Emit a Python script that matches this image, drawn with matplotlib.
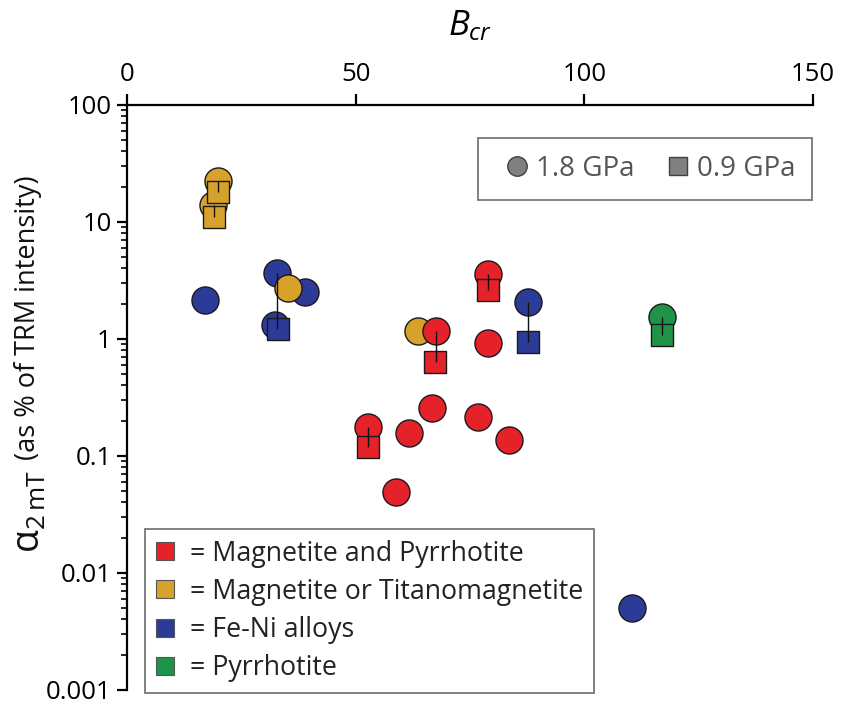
import matplotlib
matplotlib.use('Agg')
import matplotlib.pyplot as plt
from matplotlib.lines import Line2D

plt.rcParams['font.family'] = ['Open Sans', 'DejaVu Sans']
plt.rcParams['mathtext.fontset'] = 'custom'
plt.rcParams['mathtext.rm'] = 'Open Sans'
plt.rcParams['mathtext.it'] = 'Open Sans:italic'

# colours per mineral group
c_red = '#e52129'
c_gold = '#d6a22b'
c_blue = '#2c3b98'
c_green = '#1f9447'

# 1.8 GPa (circles)
red_c_x = [78.9, 67.6, 52.7, 78.9, 66.7, 61.7, 76.8, 83.5, 58.8]
red_c_y = [3.6, 1.17, 0.177, 0.92, 0.257, 0.157, 0.215, 0.137, 0.049]
gold_c_x = [19.9, 18.8, 35.2, 63.6]
gold_c_y = [22.5, 14.0, 2.75, 1.17]
blue_c_x = [17.1, 32.8, 38.9, 32.4, 87.7, 110.4]
blue_c_y = [2.15, 3.66, 2.52, 1.32, 2.07, 0.005]
green_c_x = [117.0]
green_c_y = [1.54]

# 0.9 GPa (squares)
red_s_x = [78.9, 67.4, 52.7]
red_s_y = [2.6, 0.64, 0.119]
gold_s_x = [19.9, 19.0]
gold_s_y = [18.0, 11.0]
blue_s_x = [33.0, 87.7]
blue_s_y = [1.22, 0.94]
green_s_x = [117.0]
green_s_y = [1.08]

# same sample at both pressures: x, circle value, square value
pair_x = [19.9, 19.0, 32.9, 78.9, 67.5, 52.7, 87.7, 117.0]
pair_top = [22.5, 14.0, 3.66, 3.6, 1.17, 0.177, 2.07, 1.54]
pair_bot = [18.0, 11.0, 1.22, 2.6, 0.64, 0.119, 0.94, 1.08]

groups = ['= Magnetite and Pyrrhotite', '= Magnetite or Titanomagnetite',
          '= Fe-Ni alloys', '= Pyrrhotite']

W, H = 846, 704
fig = plt.figure(figsize=(W / 100, H / 100), dpi=100)
ax = fig.add_axes([0.150, 0.020, 0.811, 0.831])

edge = '#1a1a1a'
circ = dict(marker='o', s=380, edgecolors=edge, linewidths=1.0)
sq = dict(marker='s', s=260, edgecolors=edge, linewidths=1.0)

ax.scatter(blue_c_x, blue_c_y, color=c_blue, zorder=2, **circ)
ax.scatter(gold_c_x, gold_c_y, color=c_gold, zorder=3, **circ)
ax.scatter(red_c_x, red_c_y, color=c_red, zorder=4, **circ)
ax.scatter(green_c_x, green_c_y, color=c_green, zorder=4, **circ)

ax.scatter(blue_s_x, blue_s_y, color=c_blue, zorder=5, **sq)
ax.scatter(gold_s_x, gold_s_y, color=c_gold, zorder=5, **sq)
ax.scatter(red_s_x, red_s_y, color=c_red, zorder=5, **sq)
ax.scatter(green_s_x, green_s_y, color=c_green, zorder=5, **sq)

ax.vlines(pair_x, pair_bot, pair_top, color='#111111', lw=1.0, zorder=6)

ax.set_yscale('log')
ax.set_xlim(0, 150)
ax.set_ylim(0.001, 100)
ax.set_xticks([0, 50, 100, 150])
ax.set_yticks([0.001, 0.01, 0.1, 1, 10, 100])
ax.set_yticklabels(['0.001', '0.01', '0.1', '1', '10', '100'])

ax.spines['bottom'].set_visible(False)
ax.spines['right'].set_visible(False)
ax.spines['top'].set_linewidth(1.6)
ax.spines['left'].set_linewidth(1.6)
ax.xaxis.tick_top()
ax.xaxis.set_label_position('top')
ax.tick_params(axis='x', which='major', direction='out', length=8, width=1.6,
               labelsize=18.5, pad=5)
ax.tick_params(axis='y', which='major', direction='out', length=7, width=1.6,
               labelsize=18.5, pad=4)
ax.tick_params(axis='y', which='minor', direction='out', length=4, width=1.2)

ax.set_xlabel(r'$B_{cr}$', fontsize=25, labelpad=19)

# y label in two pieces: big alpha with subscript, then the rest
fig.text(30 / W, 1 - 470 / H, r'$\mathrm{\alpha}_{\mathrm{2\,mT}}$', fontsize=27,
         rotation=90, ha='center', va='top', color='#111111')
fig.text(28 / W, 1 - 318 / H, '(as % of TRM intensity)', fontsize=19.5,
         rotation=90, ha='center', va='center', color='#111111')

# pressure legend
h1 = [Line2D([], [], ls='none', marker='o', ms=14, mfc='#808080', mec='#404040', mew=1.0),
      Line2D([], [], ls='none', marker='s', ms=13.5, mfc='#808080', mec='#404040', mew=1.0)]
leg1 = ax.legend(h1, ['1.8 GPa', '0.9 GPa'], ncol=2, loc='upper right',
                 bbox_to_anchor=(0.999, 0.943), fontsize=20, frameon=True,
                 fancybox=False, handlelength=1.6, handletextpad=-0.1,
                 columnspacing=0.75, borderpad=0.6, borderaxespad=0,
                 labelcolor='#555555')
leg1.get_frame().set_edgecolor('#555555')
leg1.get_frame().set_linewidth(1.3)
ax.add_artist(leg1)

# mineral legend
h2 = [Line2D([], [], ls='none', marker='s', ms=13.5, mfc=c, mec='#555555', mew=0.8)
      for c in [c_red, c_gold, c_blue, c_green]]
leg2 = ax.legend(h2, groups, loc='lower left', bbox_to_anchor=(0.026, -0.005),
                 fontsize=19.3, frameon=True, fancybox=False, handlelength=0.7,
                 handletextpad=0.6, labelspacing=0.38, borderpad=0.4,
                 borderaxespad=0, labelcolor='#222222')
leg2.get_frame().set_edgecolor('#555555')
leg2.get_frame().set_linewidth(1.3)
leg2.set_zorder(10)

fig.savefig('out.png', dpi=100)
